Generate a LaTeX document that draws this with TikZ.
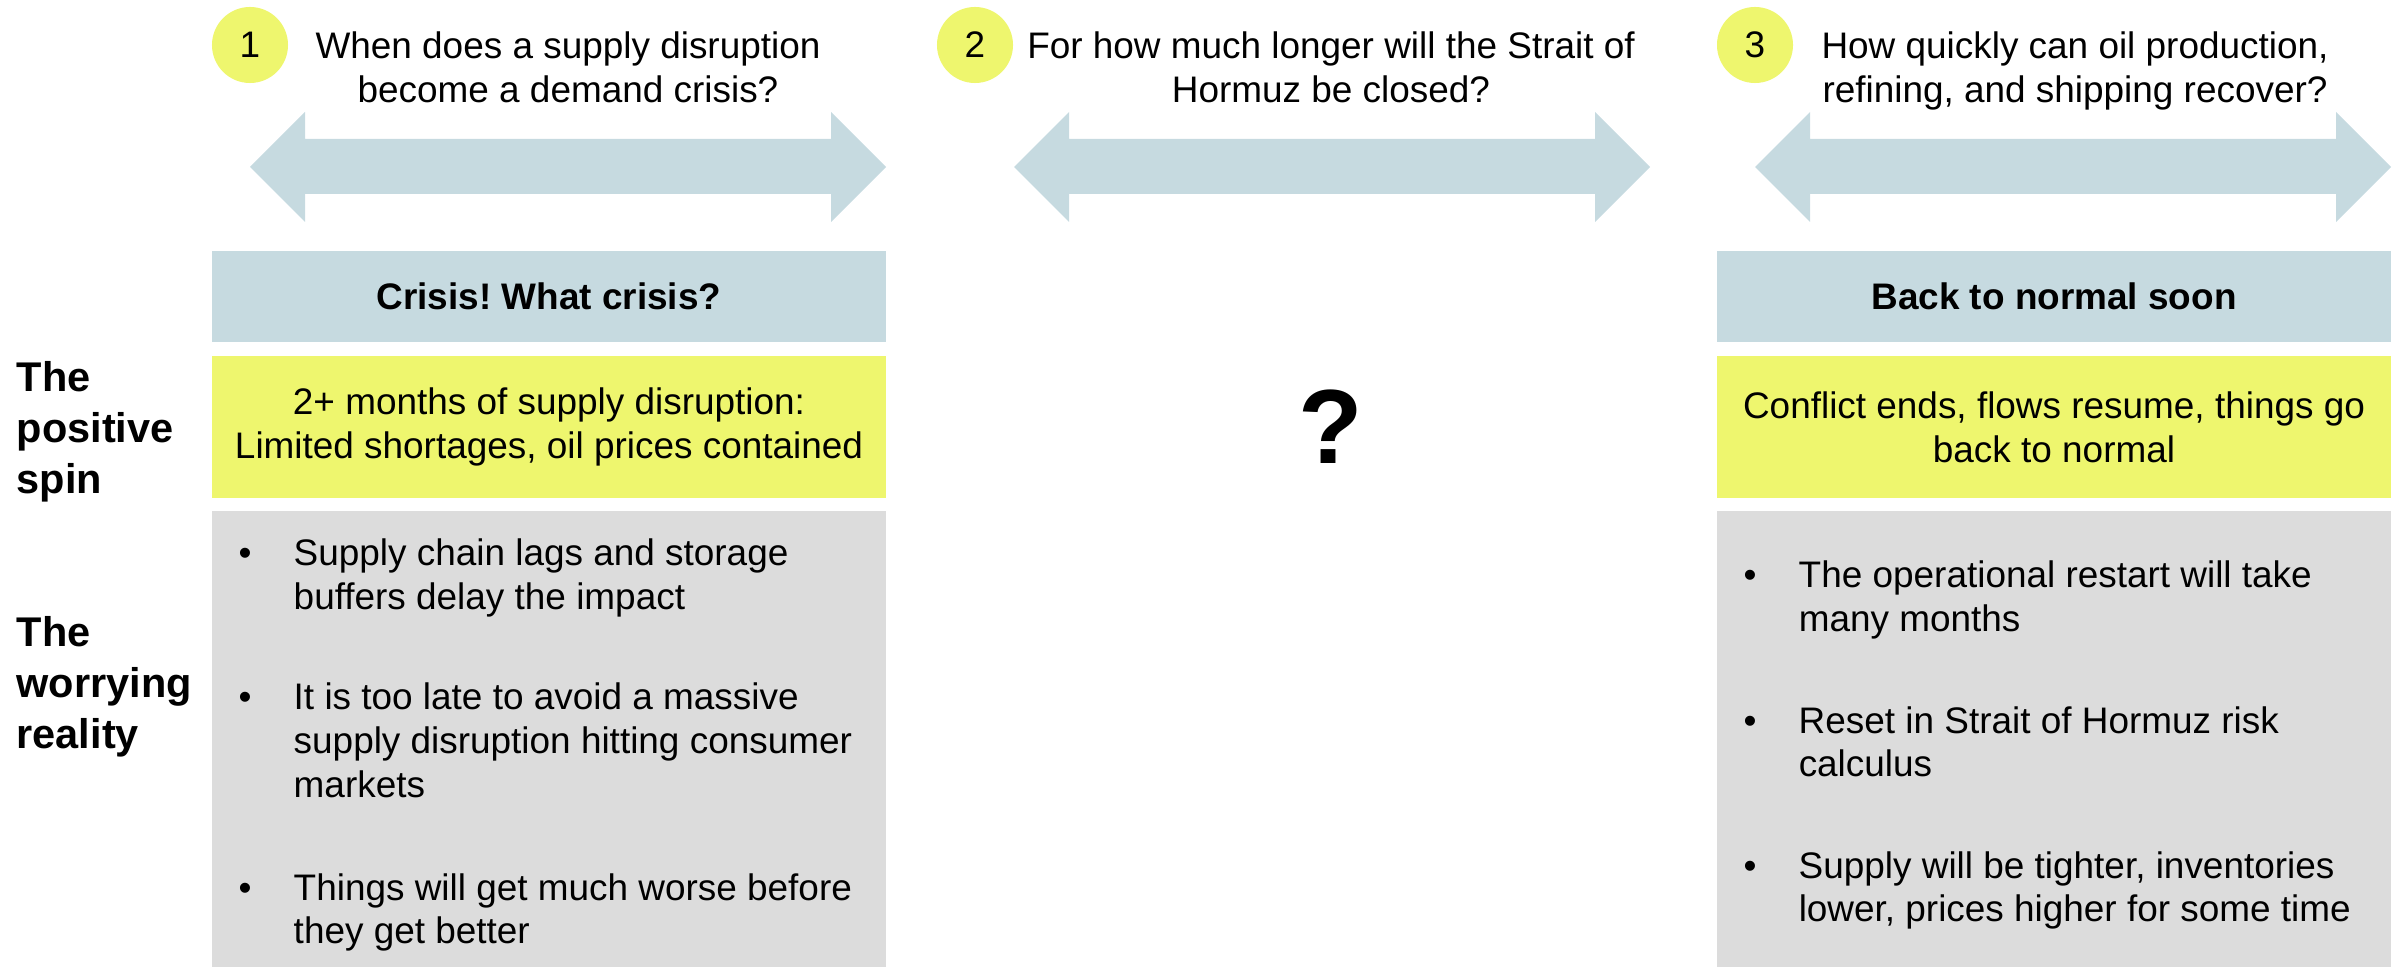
\documentclass[tikz,border=0pt]{standalone}
\usepackage{fontspec}
\setmainfont{Liberation Sans}
\frenchspacing

\definecolor{headblue}{HTML}{C6DAE0}
\definecolor{spinyellow}{HTML}{EEF66E}
\definecolor{realgray}{HTML}{DCDCDC}

\newcommand{\bitem}[1]{\makebox[0.55cm][l]{\textbullet}\parbox[t]{6.5cm}{\raggedright #1}}

\begin{document}
\begin{tikzpicture}[x=0.01cm,y=-0.01cm,
    txt/.style={font=\fontsize{10.5}{12.5}\selectfont, inner sep=0pt},
    num/.style={circle, fill=spinyellow, minimum size=0.76cm, txt},
    ask/.style={txt, align=center, anchor=north},
    box/.style={txt, minimum width=6.74cm, align=center},
    headbox/.style={box, fill=headblue, minimum height=0.91cm, font=\fontsize{10.5}{12.5}\selectfont\bfseries},
    spinbox/.style={box, fill=spinyellow, minimum height=1.42cm},
    realbox/.style={box, fill=realgray, minimum height=4.56cm},
    itm/.style={txt, anchor=base west},
    side/.style={font=\fontsize{11.8}{14.5}\selectfont\bfseries, align=left, anchor=north west, inner sep=0pt}]

        \useasboundingbox (0,0) rectangle (2402,967);

        % Questions
        \node[num] (n1) at (250,45) {1};
        \node[num] (n2) at (975,45) {2};
        \node[num] (n3) at (1755,45) {3};
        \node[ask] (q1) at (568,31) {When does a supply disruption\\become a demand crisis?};
        \node[ask] (q2) at (1331,31) {For how much longer will the Strait of\\Hormuz be closed?};
        \node[ask] (q3) at (2075,31) {How quickly can oil production,\\refining, and shipping recover?};

        % Arrows
        \foreach \a in {250,1014,1755}
        \fill[headblue] (\a,167) -- (\a+55,112) -- (\a+55,139) -- (\a+581,139) -- (\a+581,112)
            -- (\a+636,167) -- (\a+581,222) -- (\a+581,194) -- (\a+55,194) -- (\a+55,222) -- cycle;

        % Side labels
        \node[side] (spin) at (16,361) {The\\positive\\spin};
        \node[side] (worry) at (16,616) {The\\worrying\\reality};

        % Left column
        \node[headbox] (head1) at (549,296.5) {Crisis! What crisis?};
        \node[spinbox] (spin1) at (549,427) {2+ months of supply disruption:\\Limited shortages, oil prices contained};
        \node[realbox] (real1) at (549,739) {};
        \node[itm] (r1a) at (238,566) {\bitem{Supply chain lags and storage\\buffers delay the impact}};
        \node[itm] (r1b) at (238,710) {\bitem{It is too late to avoid a massive\\supply disruption hitting consumer\\markets}};
        \node[itm] (r1c) at (238,900) {\bitem{Things will get much worse before\\they get better}};

        % Middle
        \node[font=\fontsize{30}{36}\selectfont\bfseries, inner sep=0pt] (unknown) at (1331,427) {?};

        % Right column
        \node[headbox] (head3) at (2054,296.5) {Back to normal soon};
        \node[spinbox] (spin3) at (2054,427) {Conflict ends, flows resume, things go\\back to normal};
        \node[realbox] (real3) at (2054,739) {};
        \node[itm] (r3a) at (1743,588) {\bitem{The operational restart will take\\many months}};
        \node[itm] (r3b) at (1743,733) {\bitem{Reset in Strait of Hormuz risk\\calculus}};
        \node[itm] (r3c) at (1743,878) {\bitem{Supply will be tighter, inventories\\lower, prices higher for some time}};

\end{tikzpicture}
\end{document}
